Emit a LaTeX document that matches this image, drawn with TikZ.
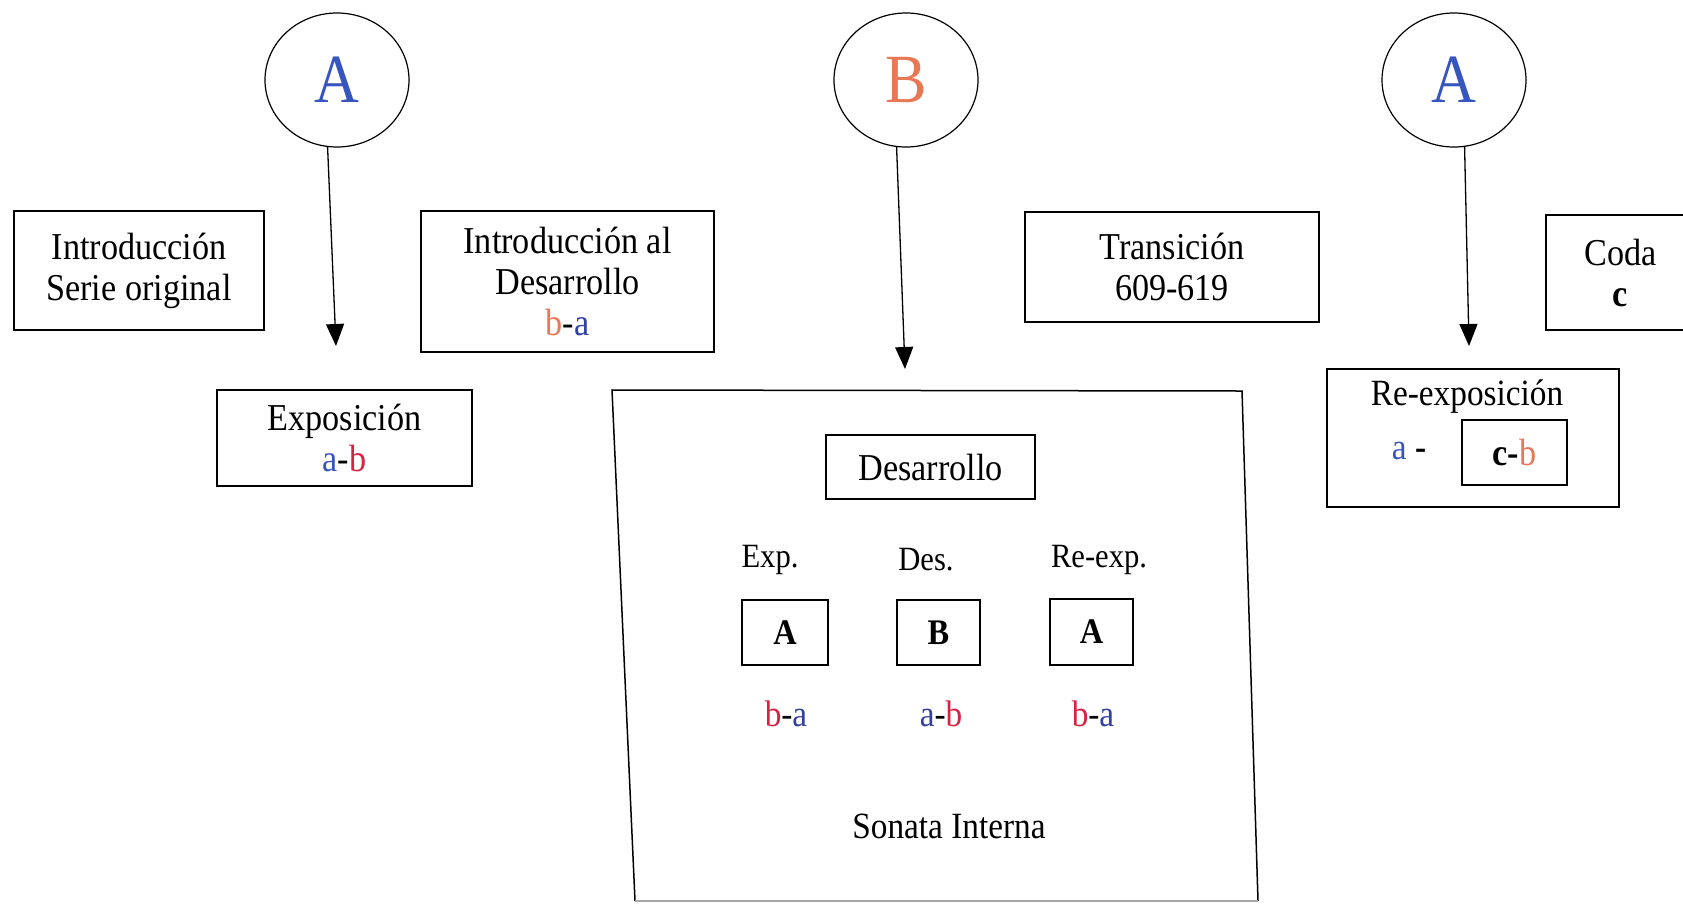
\documentclass[tikz,border=0pt]{standalone}
\usepackage{fontspec}
\setmainfont{Liberation Serif}[FakeStretch=0.9]
\usetikzlibrary{shapes.geometric,arrows.meta}
\definecolor{myblue}{RGB}{55,85,190}
\definecolor{myorange}{RGB}{232,120,85}
\definecolor{myred}{RGB}{215,35,65}
\definecolor{mynavy}{RGB}{50,65,165}
\begin{document}
\begin{tikzpicture}[x=1pt,y=-1pt,
  box/.style={draw, line width=1.5pt, inner sep=0pt, align=center, font=\fontsize{38}{41}\selectfont},
  circ/.style={draw, ellipse, line width=1.2pt, minimum width=144pt, minimum height=134pt, inner sep=0pt, font=\fontsize{69}{69}\selectfont},
  arr/.style={line width=1.3pt, -{Triangle[length=22pt,width=18pt]}},
  lbl/.style={inner sep=0pt, font=\fontsize{34}{40}\selectfont},
  seq/.style={inner sep=0pt, font=\fontsize{37}{40}\selectfont},
  letterbox/.style={draw, line width=1.5pt, inner sep=0pt, font=\fontsize{36}{40}\selectfont\bfseries}]
\clip (0,0) rectangle (1683,903);
\fill[white] (0,0) rectangle (1683,903);

% circles
\node[circ, text=myblue] (cA1) at (337,80) {A};
\node[circ, text=myorange] (cB) at (906,80) {B};
\node[circ, text=myblue] (cA3) at (1454,80) {A};

% arrows
\coordinate (t1) at (336,346);
\coordinate (t2) at (905,369);
\coordinate (t3) at (1469,346);
\draw[arr] (cA1.262) -- (t1);
\draw[arr] (cB.262) -- (t2);
\draw[arr] (cA3.279) -- (t3);

% top row boxes
\node[box, minimum width=250pt, minimum height=119pt] (intro) at (139,270.5) {Introducción\\Serie original};
\node[box, minimum width=293pt, minimum height=141pt] (introdes) at (567.5,281.5) {Introducción al\\Desarrollo\\\textcolor{myorange}{b}-\textcolor{mynavy}{a}};
\node[box, minimum width=255pt, minimum height=96pt] (expo) at (344.5,438) {Exposición\\\textcolor{myblue}{a}-\textcolor{myred}{b}};
\node[box, minimum width=294pt, minimum height=110pt] (trans) at (1172,267) {Transición\\609-619};
\node[box, minimum width=149pt, minimum height=115pt] (coda) at (1620.5,272.5) {Coda\\\textbf{c}};

% re-exposicion
\node[box, minimum width=292pt, minimum height=138pt] (reexpo) at (1473,438) {};
\node[seq] (reexpotitle) at (1467,397) {Re-exposición};
\node[seq] (reexpoa) at (1409,451) {\textcolor{myblue}{a} \textbf{-}};
\node[box, minimum width=105pt, minimum height=65pt] (reexpocb) at (1514.5,452.5) {\textbf{c-}\textcolor{myorange}{b}};

% big box (skewed)
\coordinate (bbTL) at (612,390);
\coordinate (bbTR) at (1242,391);
\coordinate (bbBR) at (1258,901);
\coordinate (bbBL) at (635,901);
\draw[line width=1.5pt] (bbBL) -- (bbTL) -- (bbTR) -- (bbBR);
\draw[line width=1.2pt, black!35] (bbBL) -- (bbBR);

\node[box, minimum width=209pt, minimum height=64pt] (desarrollo) at (930.5,467) {Desarrollo};

\node[lbl] (lexp) at (770,560) {Exp.};
\node[lbl] (ldes) at (926,560) {Des.};
\node[lbl] (lreexp) at (1099,560) {Re-exp.};

\node[letterbox, minimum width=86pt, minimum height=65pt] (sA1) at (785,632.5) {A};
\node[letterbox, minimum width=83pt, minimum height=65pt] (sB) at (938.5,632.5) {B};
\node[letterbox, minimum width=83pt, minimum height=66pt] (sA2) at (1091.5,632) {A};

\node[seq] (s1) at (786,714) {\textcolor{myred}{b}-\textcolor{mynavy}{a}};
\node[seq] (s2) at (941,714) {\textcolor{mynavy}{a}-\textcolor{myred}{b}};
\node[seq] (s3) at (1093,714) {\textcolor{myred}{b}-\textcolor{mynavy}{a}};

\node[seq] (sonata) at (949,826) {Sonata Interna};
\end{tikzpicture}
\end{document}
